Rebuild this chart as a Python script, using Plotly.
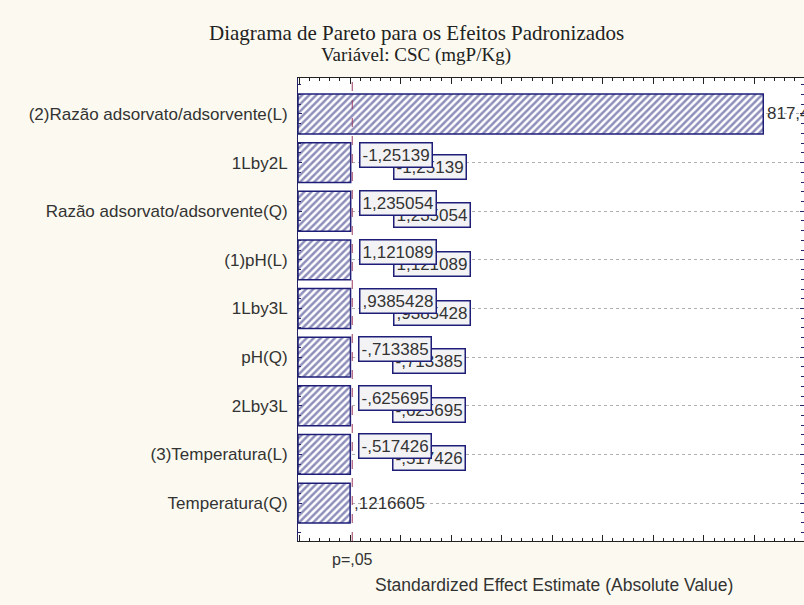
import plotly.graph_objects as go

# Pareto chart data (Statistica output)
categories = [
    "(2)Razão adsorvato/adsorvente(L)",
    "1Lby2L",
    "Razão adsorvato/adsorvente(Q)",
    "(1)pH(L)",
    "1Lby3L",
    "pH(Q)",
    "2Lby3L",
    "(3)Temperatura(L)",
    "Temperatura(Q)",
]
effects = [817.4, -1.25139, 1.235054, 1.121089, 0.9385428, -0.713385, -0.625695, -0.517426, 0.1216605]
t_crit = 4.303  # p=.05 reference line

X_MIN, X_MAX = -103, 898
NAVY = "#1e1e78"
TEXT = "#333333"
FONT = "Liberation Sans, Arial, sans-serif"
SERIF = "Liberation Serif, Times New Roman, serif"


def fmt(v):
    # Statistica style: comma decimal, no leading zero
    s = f"{v:.7g}"
    if s.startswith("0."):
        s = s[1:]
    elif s.startswith("-0."):
        s = "-" + s[2:]
    return s.replace(".", ",")


positions = list(range(len(categories)))
abs_effects = [abs(v) for v in effects]

fig = go.Figure()
fig.add_trace(go.Bar(
    y=positions,
    x=[v - X_MIN for v in abs_effects],
    base=X_MIN,
    orientation="h",
    width=0.82,
    marker=dict(
        color="white",
        line=dict(color=NAVY, width=1.5),
        pattern=dict(shape="/", fgcolor=NAVY, bgcolor="white", size=5, solidity=0.5),
    ),
    hoverinfo="skip",
))

annotations = []
box = dict(bgcolor="#f3f3f6", bordercolor=NAVY, borderwidth=1.5, borderpad=2)
for i, v in enumerate(effects):
    label = fmt(v)
    if i == 0 or i == len(effects) - 1:
        annotations.append(dict(x=abs_effects[i], y=i, xref="x", yref="y", text=label,
                                showarrow=False, xanchor="left", yanchor="middle", xshift=2,
                                font=dict(family=FONT, size=17, color=TEXT)))
        continue
    # duplicated labels, the second one sits behind
    annotations.append(dict(x=abs_effects[i], y=i, xref="x", yref="y", text=label,
                            showarrow=False, xanchor="left", yanchor="middle",
                            xshift=42, yshift=-4, font=dict(family=FONT, size=17, color=TEXT), **box))
    annotations.append(dict(x=abs_effects[i], y=i, xref="x", yref="y", text=label,
                            showarrow=False, xanchor="left", yanchor="middle",
                            xshift=8, yshift=8, font=dict(family=FONT, size=17, color=TEXT), **box))

annotations.append(dict(x=t_crit, y=0, xref="x", yref="paper", text="p=,05", showarrow=False,
                        xanchor="center", yanchor="middle", yshift=-18,
                        font=dict(family=FONT, size=16, color=TEXT)))
annotations.append(dict(x=0.5, y=0, xref="paper", yref="paper",
                        text="Standardized Effect Estimate (Absolute Value)", showarrow=False,
                        xanchor="center", yanchor="middle", yshift=-44, xshift=3,
                        font=dict(family=FONT, size=17.5, color=TEXT)))
# title, two lines
TITLE_X = (416 - 298) / 506
annotations.append(dict(x=TITLE_X, y=1, xref="paper", yref="paper", showarrow=False,
                        text="Diagrama de Pareto para os Efeitos Padronizados",
                        xanchor="center", yanchor="middle", yshift=45,
                        font=dict(family=SERIF, size=21, color="#222222")))
annotations.append(dict(x=TITLE_X, y=1, xref="paper", yref="paper", showarrow=False,
                        text="Variável: CSC (mgP/Kg)", xanchor="center", yanchor="middle",
                        yshift=23, font=dict(family=SERIF, size=19, color="#222222")))

fig.add_shape(type="line", x0=t_crit, x1=t_crit, xref="x", y0=0, y1=1, yref="paper",
              line=dict(color="#9b3a5f", width=1, dash="dash"), layer="above")

fig.update_layout(
    width=804, height=605,
    margin=dict(l=298, r=0, t=78, b=64),
    paper_bgcolor="#fcfaf0",
    plot_bgcolor="white",
    showlegend=False,
    annotations=annotations,
    xaxis=dict(
        range=[X_MIN, X_MAX], showticklabels=False, showgrid=False, zeroline=False,
        tick0=0, dtick=100, ticks="inside", ticklen=6, tickcolor="#222222",
        minor=dict(dtick=20, ticks="inside", ticklen=3, tickcolor="#222222", showgrid=False),
        showline=True, linecolor="#222222", linewidth=1, mirror="allticks",
    ),
    yaxis=dict(
        range=[8.78, -0.74], tickvals=positions, ticktext=categories,
        showgrid=True, gridcolor="#b0b0b0", griddash="dot", gridwidth=1, zeroline=False,
        ticks="inside", ticklen=4, tickcolor="#222266",
        minor=dict(dtick=0.2, ticks="inside", ticklen=3, tickcolor="#222266", showgrid=False),
        showline=True, linecolor="#222266", linewidth=1, mirror="allticks",
        tickfont=dict(family=FONT, size=17, color=TEXT), ticklabelstandoff=6,
    ),
)

# drop the default page margin so the 804x605 figure fills the window
fig.write_html("out.html", config={"displayModeBar": False},
               post_script="document.body.style.margin='0';")
